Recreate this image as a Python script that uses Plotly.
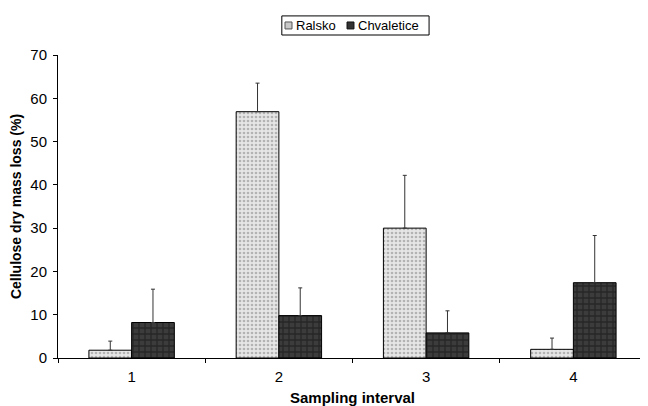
import plotly.graph_objects as go

categories = ["1", "2", "3", "4"]
series_names = ["Ralsko", "Chvaletice"]
ralsko = [1.8, 56.9, 30.0, 2.0]
ralsko_err = [2.1, 6.6, 12.2, 2.6]
chval = [8.2, 9.8, 5.8, 17.4]
chval_err = [7.7, 6.4, 5.1, 10.9]

FONT = "Liberation Sans, Arial, sans-serif"

fig = go.Figure()
fig.add_trace(go.Bar(
    name=series_names[0], x=categories, y=ralsko,
    marker=dict(color="#e6e6e6", line=dict(color="#000000", width=1),
                pattern=dict(shape=".", fgcolor="#808080", bgcolor="#e6e6e6", size=4, solidity=0.35)),
    error_y=dict(type="data", array=ralsko_err, arrayminus=[0]*4, symmetric=False,
                 color="#333333", thickness=1, width=2),
))
fig.add_trace(go.Bar(
    name=series_names[1], x=categories, y=chval,
    marker=dict(color="#3a3a3a", line=dict(color="#000000", width=1),
                pattern=dict(shape="+", fgcolor="#111111", bgcolor="#3c3c3c", size=6, solidity=0.4)),
    error_y=dict(type="data", array=chval_err, arrayminus=[0]*4, symmetric=False,
                 color="#333333", thickness=1, width=2),
))

# custom compact legend (box, swatches, labels) in paper coordinates
shapes = [
    dict(type="rect", xref="paper", yref="paper", x0=0.380, x1=0.630, y0=1.066, y1=1.129,
         line=dict(color="#000000", width=1), fillcolor="white", layer="above"),
    dict(type="rect", xref="paper", yref="paper", x0=0.3854, x1=0.3973, y0=1.086, y1=1.109,
         line=dict(color="#555555", width=1), fillcolor="#c8c8c8", layer="above"),
    dict(type="rect", xref="paper", yref="paper", x0=0.4907, x1=0.5025, y0=1.086, y1=1.109,
         line=dict(color="#111111", width=1), fillcolor="#333333", layer="above"),
]
annotations = [
    dict(text=series_names[0], xref="paper", yref="paper", x=0.4007, y=1.098,
         xanchor="left", yanchor="middle", showarrow=False, font=dict(size=13, family=FONT)),
    dict(text=series_names[1], xref="paper", yref="paper", x=0.506, y=1.098,
         xanchor="left", yanchor="middle", showarrow=False, font=dict(size=13, family=FONT)),
]

fig.update_layout(
    width=648, height=406,
    margin=dict(l=50, r=9, t=47, b=56),
    paper_bgcolor="white", plot_bgcolor="white",
    font=dict(family=FONT, size=15, color="#000000"),
    barmode="group", bargap=0.42, bargroupgap=0,
    showlegend=False,
    shapes=shapes, annotations=annotations,
)
fig.update_xaxes(
    type="category", showline=True, linecolor="#000000", linewidth=1,
    ticks="outside", tickson="boundaries", ticklen=4, tickcolor="#000000",
    showgrid=False, tickfont=dict(size=15), ticklabelstandoff=5, automargin=False,
    title=dict(text="<b>Sampling interval</b>", font=dict(size=15), standoff=8),
)
fig.update_yaxes(
    range=[0, 70], dtick=10, showline=True, linecolor="#000000", linewidth=1,
    ticks="outside", ticklen=4, tickcolor="#000000", showgrid=False, zeroline=False,
    tickfont=dict(size=15), ticklabelstandoff=3, automargin=False,
    title=dict(text="<b>Cellulose dry mass loss (%)</b>", font=dict(size=14), standoff=6),
)

fig.write_html("out.html")
